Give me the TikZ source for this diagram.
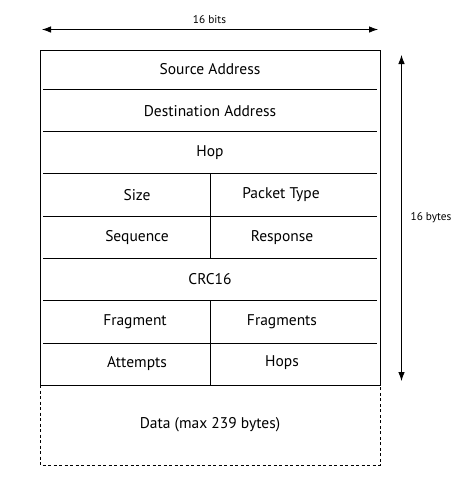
\documentclass[tikz,border=0pt]{standalone}
\usepackage{fontspec}
\setmainfont{PT Sans}
\usetikzlibrary{arrows.meta}

\tikzset{
  field/.style={font=\fontsize{15.5}{18}\selectfont, inner sep=0pt},
  dimlabel/.style={font=\fontsize{11.3}{13}\selectfont, inner sep=0pt},
  dimarrow/.style={{Latex[length=9pt,width=6.5pt]}-{Latex[length=9pt,width=6.5pt]}}
}

\begin{document}
\begin{tikzpicture}[x=1pt,y=-1pt,line width=0.8pt]
    \useasboundingbox (0,0) rectangle (461,485);

    % Header frame
    \draw (40,50) rectangle (380,385);
    \foreach \y in {89.5,131,173,216,258,300,343}
        \draw (43,\y) -- (377,\y);
    \draw (210,173) -- (210,258);
    \draw (210,300) -- (210,385);

    % Payload
    \draw[dash pattern=on 3pt off 2.5pt] (40,385) rectangle (380,465);

    % Fields
    \node[field] (src) at (210,69.5) {Source Address};
    \node[field] (dst) at (210,111) {Destination Address};
    \node[field] (hop) at (210,152.5) {Hop};
    \node[field] (size) at (137,195) {Size};
    \node[field] (ptype) at (281,195) {Packet Type};
    \node[field] (seq) at (137,237.5) {Sequence};
    \node[field] (resp) at (282,237.5) {Response};
    \node[field] (crc) at (210,279.5) {CRC16};
    \node[field] (frag) at (135,321.5) {Fragment};
    \node[field] (frags) at (282,321.5) {Fragments};
    \node[field] (tries) at (137,363.5) {Attempts};
    \node[field] (hops) at (282,362.5) {Hops};
    \node[field] (data) at (210,425) {Data (max 239 bytes)};

    % Width
    \coordinate (wl) at (42,29.5);
    \coordinate (wr) at (378,29.5);
    \draw[dimarrow] (wl) -- (wr);
    \node[dimlabel] (bits) at (209.5,19.5) {16 bits};

    % Height
    \coordinate (ht) at (401.5,55);
    \coordinate (hb) at (401.5,381);
    \draw[dimarrow] (ht) -- (hb);
    \node[dimlabel] (bytes) at (431,218) {16 bytes};
\end{tikzpicture}
\end{document}
